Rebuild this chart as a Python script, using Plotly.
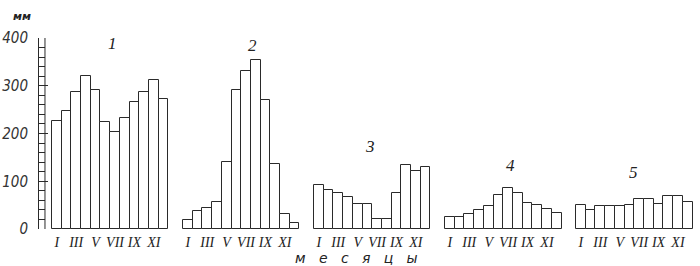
import plotly.graph_objects as go

months = ["I", "II", "III", "IV", "V", "VI", "VII", "VIII", "IX", "X", "XI", "XII"]
tick_months = ["I", "III", "V", "VII", "IX", "XI"]
station_labels = ["1", "2", "3", "4", "5"]

precip_1 = [226, 247, 287, 320, 291, 224, 203, 232, 266, 287, 312, 272]
precip_2 = [19, 38, 44, 57, 140, 291, 331, 354, 270, 136, 31, 13]
precip_3 = [92, 82, 75, 66, 52, 52, 22, 22, 75, 134, 121, 129]
precip_4 = [25, 25, 31, 40, 48, 71, 86, 75, 55, 50, 42, 34]
precip_5 = [50, 40, 48, 48, 48, 51, 63, 63, 52, 69, 69, 57]
series = [precip_1, precip_2, precip_3, precip_4, precip_5]

GROUP_STEP = 13.5
xs, ys = [], []
for g, vals in enumerate(series):
    for m, v in enumerate(vals):
        xs.append(g * GROUP_STEP + m)
        ys.append(v)

tickvals, ticktext = [], []
for g in range(len(series)):
    for m, name in enumerate(months):
        if name in tick_months:
            tickvals.append(g * GROUP_STEP + m)
            ticktext.append(name)

fig = go.Figure()
fig.add_trace(go.Bar(
    x=xs, y=ys, width=1.0,
    marker=dict(color="white", line=dict(color="#2a2a2a", width=1)),
    showlegend=False, hoverinfo="skip",
))

W, H = 700, 266
L, R, T, B = 36, 2, 38, 37
px_per_unit = 9.75
x_left = -0.5 - (49 - L) / px_per_unit
x_right = -0.5 + (W - R - 49) / px_per_unit
plot_w = W - L - R
plot_h = H - T - B

fig.update_layout(
    width=W, height=H,
    margin=dict(l=L, r=R, t=T, b=B, pad=0),
    paper_bgcolor="white", plot_bgcolor="white",
    bargap=0,
    xaxis=dict(
        range=[x_left, x_right], showgrid=False, zeroline=False, showline=False,
        tickmode="array", tickvals=tickvals, ticktext=ticktext, ticks="",
        tickangle=0,
        tickfont=dict(family="Liberation Serif", size=14, color="#222", style="italic"),
        ticklabelstandoff=3,
    ),
    yaxis=dict(
        range=[0, 400], showgrid=False, zeroline=False,
        showline=True, linecolor="#2a2a2a", linewidth=1,
        tickmode="array", tickvals=[0, 100, 200, 300, 400],
        ticks="inside", ticklen=9, tickcolor="#2a2a2a", tickwidth=1,
        minor=dict(dtick=20, ticks="inside", ticklen=6, tickcolor="#2a2a2a", tickwidth=1),
        tickfont=dict(family="Liberation Sans Narrow, DejaVu Sans Condensed, sans-serif",
                      size=15, color="#333", style="italic"),
        ticklabelstandoff=7,
    ),
)

fig.add_shape(type="line", xref="paper", yref="y",
              x0=6 / plot_w, x1=6 / plot_w, y0=0, y1=400,
              line=dict(color="#2a2a2a", width=1))

def px_to_x(p):
    return -0.5 + (p - 49) / px_per_unit

def py_to_y(p):
    return (229 - p) * 400 / plot_h

label_px = [(110, 43), (250, 45), (368, 146), (510, 165), (633, 172)]
for lab, (lx, ly) in zip(station_labels, label_px):
    fig.add_annotation(x=px_to_x(lx), y=py_to_y(ly), xref="x", yref="y", text=lab,
                       showarrow=False, xanchor="center", yanchor="middle",
                       font=dict(family="Liberation Serif", size=17, color="#222", style="italic"))

fig.add_annotation(x=(19 - L) / plot_w, y=(229 - 17) / plot_h, xref="paper", yref="paper",
                   text="мм", showarrow=False, xanchor="center", yanchor="middle",
                   font=dict(family="DejaVu Sans", size=11, color="#222", style="italic", weight="bold"))

fig.add_annotation(x=(355 - L) / plot_w, y=(229 - 258) / plot_h, xref="paper", yref="paper",
                   text="м   е   с   я   ц   ы", showarrow=False, xanchor="center", yanchor="middle",
                   font=dict(family="DejaVu Sans", size=14, color="#222", style="italic"))

fig.write_html("out.html")
